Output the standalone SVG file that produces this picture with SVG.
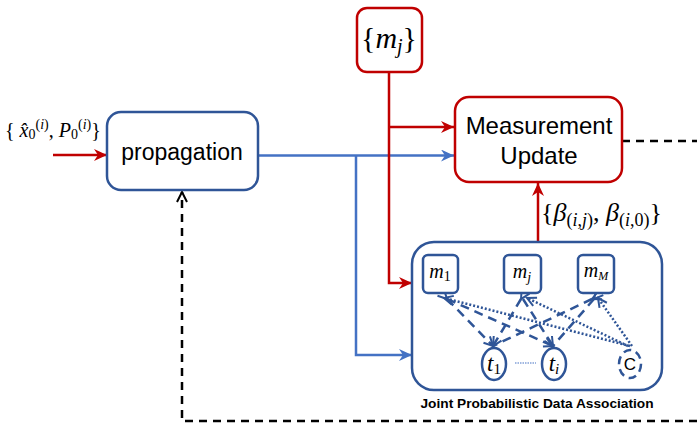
<svg xmlns="http://www.w3.org/2000/svg" width="697" height="425" viewBox="0 0 697 425">
<defs>
<style>
.box{fill:#fff;stroke-width:2.5}
.blue{stroke:#2F5597}
.red{stroke:#C00000}
.lbl{font-family:"Liberation Sans","Open Sans",sans-serif;fill:#000}
.math{font-family:"Liberation Serif","DejaVu Serif",serif;fill:#000}
.it{font-style:italic}
.wire{fill:none;stroke-width:2.5}
.lb{stroke:#4472C4}
.rd{stroke:#C00000}
.bk{stroke:#000;stroke-dasharray:8 6}
.inner{fill:none;stroke:#2F5597;stroke-width:2.5}
.dash{stroke-dasharray:9 6}
.dot{stroke-dasharray:2 2}
</style>
<marker id="ar" markerUnits="userSpaceOnUse" markerWidth="14" markerHeight="12" refX="13" refY="6" orient="auto">
<path d="M0,0 L13,6 L0,12 L4,6 z" fill="#C00000"/>
</marker>
<marker id="ab" markerUnits="userSpaceOnUse" markerWidth="14" markerHeight="12" refX="13" refY="6" orient="auto">
<path d="M0,0 L13,6 L0,12 L4,6 z" fill="#4472C4"/>
</marker>
<marker id="ak" markerUnits="userSpaceOnUse" markerWidth="14" markerHeight="12" refX="11" refY="6" orient="auto">
<path d="M1,1 L11,6 L1,11" fill="none" stroke="#000" stroke-width="2"/>
</marker>
<marker id="ai" markerUnits="userSpaceOnUse" markerWidth="12" markerHeight="12" refX="10" refY="6" orient="auto">
<path d="M1,1.5 L10,6 L1,10.5" fill="none" stroke="#2F5597" stroke-width="2"/>
</marker>
</defs>
<rect width="697" height="425" fill="#fff"/>

<g id="connectors">
<line class="wire rd" x1="53" y1="155" x2="107" y2="155" marker-end="url(#ar)"/>
<line class="wire lb" x1="258" y1="155.5" x2="454" y2="155.5" marker-end="url(#ab)"/>
<polyline class="wire lb" points="356,155.5 356,355 412,355" marker-end="url(#ab)"/>
<polyline class="wire rd" points="389,73 389,283 412,283" marker-end="url(#ar)"/>
<line class="wire rd" x1="389" y1="127" x2="454" y2="127" marker-end="url(#ar)"/>
<line class="wire rd" x1="538" y1="242" x2="538" y2="183" marker-end="url(#ar)"/>
<line class="wire bk" x1="622" y1="141" x2="697" y2="141"/>
<polyline class="wire bk" points="697,421 182,421 182,192" marker-end="url(#ak)"/>
</g>

<g id="init-label">
<text class="math" x="5" y="137" font-size="20">{ <tspan class="it">x̂</tspan><tspan font-size="14" dy="2">0</tspan><tspan font-size="14" dy="-10">(<tspan class="it">i</tspan>)</tspan><tspan dy="8">, </tspan><tspan class="it">P</tspan><tspan font-size="14" dy="2">0</tspan><tspan font-size="14" dy="-10">(<tspan class="it">i</tspan>)</tspan><tspan dy="8">}</tspan></text>
</g>

<g id="propagation">
<rect class="box blue" x="107" y="112" width="151" height="78" rx="14"/>
<text class="lbl" x="182" y="160" font-size="23" text-anchor="middle">propagation</text>
</g>

<g id="mj">
<rect class="box red" x="357" y="8" width="65" height="64" rx="10"/>
<text class="math" x="389" y="48" font-size="30" text-anchor="middle">{<tspan class="it">m</tspan><tspan class="it" font-size="20" dy="5">j</tspan><tspan dy="-5">}</tspan></text>
</g>

<g id="measurement-update">
<rect class="box red" x="455" y="97" width="167" height="85" rx="14"/>
<text class="lbl" x="539" y="134" font-size="24" text-anchor="middle">Measurement</text>
<text class="lbl" x="539" y="164" font-size="24" text-anchor="middle">Update</text>
</g>

<g id="beta-label">
<text class="math" x="541" y="221" font-size="26">{<tspan class="it">β</tspan><tspan font-size="18" dy="5">(<tspan class="it">i</tspan>,<tspan class="it">j</tspan>)</tspan><tspan dy="-5">, </tspan><tspan class="it">β</tspan><tspan font-size="18" dy="5">(<tspan class="it">i</tspan>,0)</tspan><tspan dy="-5">}</tspan></text>
</g>

<g id="jpda">
<rect class="box blue" x="412" y="242" width="250" height="148" rx="22"/>
<text class="lbl" x="537" y="408" font-size="13" font-weight="bold" text-anchor="middle" textLength="233" lengthAdjust="spacingAndGlyphs">Joint Probabilistic Data Association</text>
</g>

<g id="jpda-connectors">
<line class="inner dash" x1="447" y1="299" x2="493" y2="346" marker-end="url(#ai)" marker-start="url(#ai)"/>
<line class="inner dash" x1="447" y1="299" x2="553" y2="346" marker-end="url(#ai)"/>
<line class="inner dash" x1="521" y1="299" x2="493" y2="346" marker-end="url(#ai)" marker-start="url(#ai)"/>
<line class="inner dash" x1="523" y1="299" x2="553" y2="346" marker-end="url(#ai)"/>
<line class="inner dash" x1="592" y1="299" x2="493" y2="346" marker-start="url(#ai)"/>
<line class="inner dash" x1="594" y1="299" x2="553" y2="346" marker-start="url(#ai)"/>
<line class="inner dot" x1="630" y1="346" x2="444" y2="298" marker-end="url(#ai)"/>
<line class="inner dot" x1="628" y1="346" x2="527" y2="298" marker-end="url(#ai)"/>
<line class="inner dot" x1="632" y1="346" x2="598" y2="298" marker-end="url(#ai)"/>
<line stroke="#4472C4" stroke-width="1.2" stroke-dasharray="1.5 1" x1="515" y1="363" x2="536" y2="363"/>
</g>

<g id="m1">
<rect class="box blue" x="423" y="255" width="35" height="38" rx="5"/>
<text class="math" x="440" y="278" font-size="20" text-anchor="middle"><tspan class="it">m</tspan><tspan font-size="14" dy="3">1</tspan></text>
</g>
<g id="m-j">
<rect class="box blue" x="504" y="255" width="37" height="38" rx="5"/>
<text class="math" x="522" y="278" font-size="20" text-anchor="middle"><tspan class="it">m</tspan><tspan class="it" font-size="14" dy="4">j</tspan></text>
</g>
<g id="mM">
<rect class="box blue" x="578" y="255" width="36" height="38" rx="5"/>
<text class="math" x="596" y="277" font-size="20" text-anchor="middle"><tspan class="it">m</tspan><tspan class="it" font-size="12" dy="3">M</tspan></text>
</g>
<g id="t1">
<ellipse class="box blue" cx="494" cy="364" rx="12" ry="16"/>
<text class="math" x="494" y="371" font-size="23" text-anchor="middle"><tspan class="it">t</tspan><tspan font-size="15" dy="3">1</tspan></text>
</g>
<g id="ti">
<ellipse class="box blue" cx="554" cy="364" rx="12" ry="16"/>
<text class="math" x="554" y="371" font-size="23" text-anchor="middle"><tspan class="it">t</tspan><tspan class="it" font-size="15" dy="3">i</tspan></text>
</g>
<g id="C">
<ellipse class="box blue" cx="630" cy="364" rx="11" ry="14" stroke-dasharray="8 5"/>
<text class="lbl" x="630" y="370" font-size="17" text-anchor="middle">C</text>
</g>
</svg>
